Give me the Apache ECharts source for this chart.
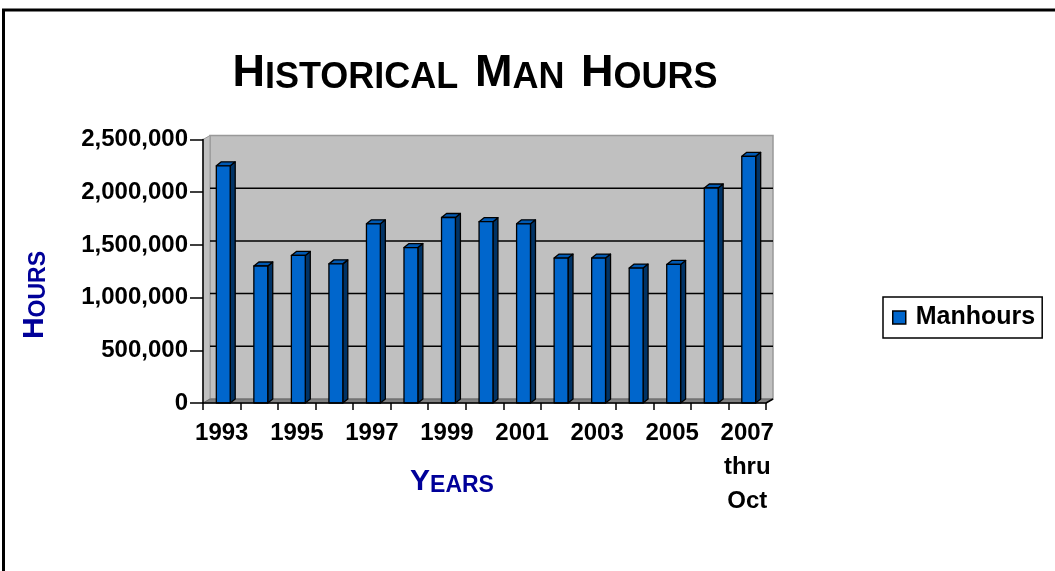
<!DOCTYPE html>
<html><head><meta charset="utf-8">
<script src="https://cdn.jsdelivr.net/npm/echarts@6/dist/echarts.min.js"></script>
<style>html,body{margin:0;padding:0;background:#fff}#c{width:1055px;height:571px}</style>
</head><body><div id="c"></div>
<script>
const years = ['1993','1994','1995','1996','1997','1998','1999','2000','2001','2002','2003','2004','2005','2006','2007\nthru\nOct'];
const manhours = [2250000,1300000,1400000,1320000,1700000,1475000,1760000,1720000,1700000,1375000,1375000,1280000,1315000,2040000,2340000];
const seriesName = 'Manhours';
const yMin = 0, yMax = 2500000, yStep = 500000;

const WALL_DX = 7, WALL_DY = 4, BAR_DX = 5, BAR_DY = 4;
const FONT = '"Liberation Sans", Arial, sans-serif';

function wallItem(params, api) {
  const cs = params.coordSys;
  const x0 = cs.x, x1 = cs.x + cs.width, yt = cs.y, yb = cs.y + cs.height;
  const kids = [];
  kids.push({type:'polygon', shape:{points:[[x0+WALL_DX,yt-WALL_DY],[x1+WALL_DX,yt-WALL_DY],[x1+WALL_DX,yb-WALL_DY],[x0+WALL_DX,yb-WALL_DY]]},
    style:{fill:'#C0C0C0', stroke:'#999999', lineWidth:1.5}});
  kids.push({type:'polygon', shape:{points:[[x0,yt],[x0+WALL_DX,yt-WALL_DY],[x0+WALL_DX,yb-WALL_DY],[x0,yb]]},
    style:{fill:'#C0C0C0', stroke:'#999999', lineWidth:1}});
  kids.push({type:'polygon', shape:{points:[[x0,yb],[x0+WALL_DX,yb-WALL_DY],[x1+WALL_DX,yb-WALL_DY],[x1,yb]]},
    style:{fill:'#808080', stroke:'#666666', lineWidth:1}});
  for (let v = yMin + yStep; v < yMax; v += yStep) {
    const p = api.coord([0, v]);
    kids.push({type:'line', shape:{x1:x0+WALL_DX, y1:p[1]-WALL_DY, x2:x1+WALL_DX, y2:p[1]-WALL_DY}, style:{stroke:'#000', lineWidth:1.5}});
  }
  kids.push({type:'line', shape:{x1:x1, y1:yb, x2:x1+WALL_DX, y2:yb-WALL_DY}, style:{stroke:'#000', lineWidth:1.5}});
  return {type:'group', children:kids};
}

function barItem(params, api) {
  const i = api.value(0), v = api.value(1);
  const t = api.coord([i, v]), b = api.coord([i, 0]);
  const band = api.size([1, 0])[0];
  const w = band * 0.37;
  const x0 = t[0] - w / 2 + 1.5, x1 = x0 + w;
  const s = {stroke:'#000', lineWidth:1.3, lineJoin:'round'};
  return {type:'group', children:[
    {type:'polygon', shape:{points:[[x1,t[1]],[x1+BAR_DX,t[1]-BAR_DY],[x1+BAR_DX,b[1]-BAR_DY],[x1,b[1]]]}, style:Object.assign({fill:'#003366'}, s)},
    {type:'polygon', shape:{points:[[x0,t[1]],[x0+BAR_DX,t[1]-BAR_DY],[x1+BAR_DX,t[1]-BAR_DY],[x1,t[1]]]}, style:Object.assign({fill:'#0059B3'}, s)},
    {type:'rect', shape:{x:x0, y:t[1], width:w, height:b[1]-t[1]}, style:Object.assign({fill:'#0066CC'}, s)}
  ]};
}

const big = {fontFamily:FONT, fontWeight:'bold', fontSize:45, fill:'#000', verticalAlign:'bottom'};
const small = {fontFamily:FONT, fontWeight:'bold', fontSize:36, fill:'#000', verticalAlign:'bottom'};
const gap = {fontFamily:FONT, fontWeight:'bold', fontSize:60, fill:'#000', verticalAlign:'bottom'};

const chart = echarts.init(document.getElementById('c'), null, {renderer:'canvas'});
chart.setOption({
  animation: false,
  backgroundColor: '#ffffff',
  grid: {left: 203, right: 289, top: 139.5, bottom: 168, containLabel: false},
  legend: {
    data: [{name: seriesName, icon: 'rect'}],
    left: 883, top: 297,
    padding: [8, 7, 8, 9],
    borderColor: '#000', borderWidth: 1.5,
    itemWidth: 13, itemHeight: 13,
    itemStyle: {color:'#0066CC', borderColor:'#000', borderWidth:1.5},
    textStyle: {fontFamily: FONT, fontWeight:'bold', fontSize:25, color:'#000', padding:[0,0,0,5]}
  },
  xAxis: {
    type: 'category', data: years, boundaryGap: true, z: 5,
    axisLine: {lineStyle:{color:'#000', width:1.5}},
    axisTick: {show:true, interval:0, length:7, lineStyle:{color:'#000', width:1.5}},
    axisLabel: {interval:1, margin:13, fontFamily:FONT, fontWeight:'bold', fontSize:24, color:'#000', lineHeight:34},
    splitLine: {show:false}
  },
  yAxis: {
    type: 'value', min: yMin, max: yMax, interval: yStep, z: 5,
    axisLine: {show:true, lineStyle:{color:'#000', width:1.5}},
    axisTick: {show:true, length:13, lineStyle:{color:'#000', width:1.5}},
    axisLabel: {margin:15, fontFamily:FONT, fontWeight:'bold', fontSize:24, color:'#000',
      formatter: v => v.toLocaleString('en-US')},
    splitLine: {show:false}
  },
  graphic: [
    {type:'rect', z:100, silent:true, shape:{x:3.5, y:10, width:1200, height:700}, style:{fill:'none', stroke:'#000', lineWidth:3}},
    {type:'text', z:100, x:475, y:96, style:{
      text:'{a|H}{b|ISTORICAL}{s| }{a|M}{b|AN}{s| }{a|H}{b|OURS}', align:'center', verticalAlign:'bottom',
      rich:{a:big, b:small, s:gap}}},
    {type:'text', z:100, x:35, y:295, rotation:Math.PI/2, style:{
      text:'{a|H}{b|OURS}', align:'center', verticalAlign:'middle',
      rich:{a:{fontFamily:FONT, fontWeight:'bold', fontSize:30, fill:'#000099', verticalAlign:'bottom'},
            b:{fontFamily:FONT, fontWeight:'bold', fontSize:23, fill:'#000099', verticalAlign:'bottom'}}}},
    {type:'text', z:100, x:452, y:482, style:{
      text:'{a|Y}{b|EARS}', align:'center', verticalAlign:'middle',
      rich:{a:{fontFamily:FONT, fontWeight:'bold', fontSize:30, fill:'#000099', verticalAlign:'bottom'},
            b:{fontFamily:FONT, fontWeight:'bold', fontSize:23, fill:'#000099', verticalAlign:'bottom'}}}}
  ],
  series: [
    {type:'custom', z:1, silent:true, renderItem: wallItem, data:[[0, 0]], clip:false, tooltip:{show:false}},
    {type:'custom', name: seriesName, z:2, renderItem: barItem, itemStyle:{color:'#0066CC'},
      encode:{x:0, y:1}, data: manhours.map((v, i) => [i, v]), clip:false}
  ]
});
</script>
</body></html>
